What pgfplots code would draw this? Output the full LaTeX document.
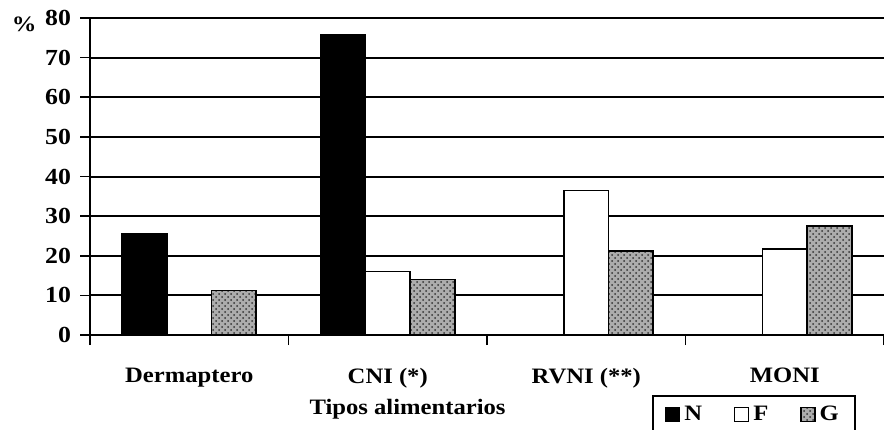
\documentclass[border=0pt]{standalone}
\usepackage{fontspec}
\setmainfont{Liberation Serif}[FakeStretch=1.12]
\usepackage{pgfplots}
\pgfplotsset{compat=1.18}
\usetikzlibrary{patterns}

\begin{document}
\begin{tikzpicture}
\path[use as bounding box] (0,0) rectangle (442pt,214.5pt);
\begin{axis}[
  at={(45pt,47pt)}, anchor=south west,
  scale only axis, width=397pt, height=158.5pt,
  clip=false,
  font=\bfseries\fontsize{11}{12}\selectfont,
  /pgf/number format/assume math mode=true,
  axis x line*=bottom, axis y line*=left,
  axis line style={line width=1pt},
  xmin=0, xmax=4, ymin=0, ymax=80,
  ytick={0,10,...,80},
  ymajorgrids, grid style={black, line width=1pt},
  xtick={0,1,2,3,4},
  xticklabels={Dermaptero, CNI (*), RVNI (**), MONI},
  x tick label as interval,
  xticklabel style={yshift=-8pt},
  tick align=outside,
  major tick length=5pt,
  xtick style={black, line width=0.8pt},
  ytick style={black, line width=0.8pt},
  yticklabel style={xshift=-1pt, font=\bfseries\fontsize{11.5}{12}\selectfont},
  xlabel={Tipos alimentarios},
  xlabel style={at={(axis description cs:0.40,-0.233)}, anchor=center},
  legend columns=3,
  legend style={at={(axis description cs:0.708,-0.189)}, anchor=north west,
    draw=black, line width=1pt, inner xsep=6pt, inner ysep=3pt,
    /tikz/every even column/.append style={column sep=14pt},
    font=\bfseries\fontsize{11}{12}\selectfont},
  legend image code/.code={\draw[#1, line width=0.6pt] (0pt,-3.5pt) rectangle (7pt,3.5pt);},
  bar width=0.225,
]
\addplot[ybar, bar shift=-0.225, fill=black, draw=black, line width=0.8pt]
  coordinates {(0.5,25.5) (1.5,75.8) (2.5,0) (3.5,0)};
\addplot[ybar, bar shift=0, fill=white, draw=black, line width=0.8pt]
  coordinates {(0.5,0) (1.5,16) (2.5,36.5) (3.5,21.7)};
\addplot[ybar, bar shift=0.225, fill=gray!65, draw=black, line width=0.8pt,
  postaction={pattern=crosshatch dots, pattern color=black!80}]
  coordinates {(0.5,11.2) (1.5,14) (2.5,21.2) (3.5,27.5)};
\legend{N, F, G}
\node[font=\bfseries\fontsize{11}{12}\selectfont] at (axis description cs:-0.083,0.98) {\%};
\end{axis}
\end{tikzpicture}
\end{document}
